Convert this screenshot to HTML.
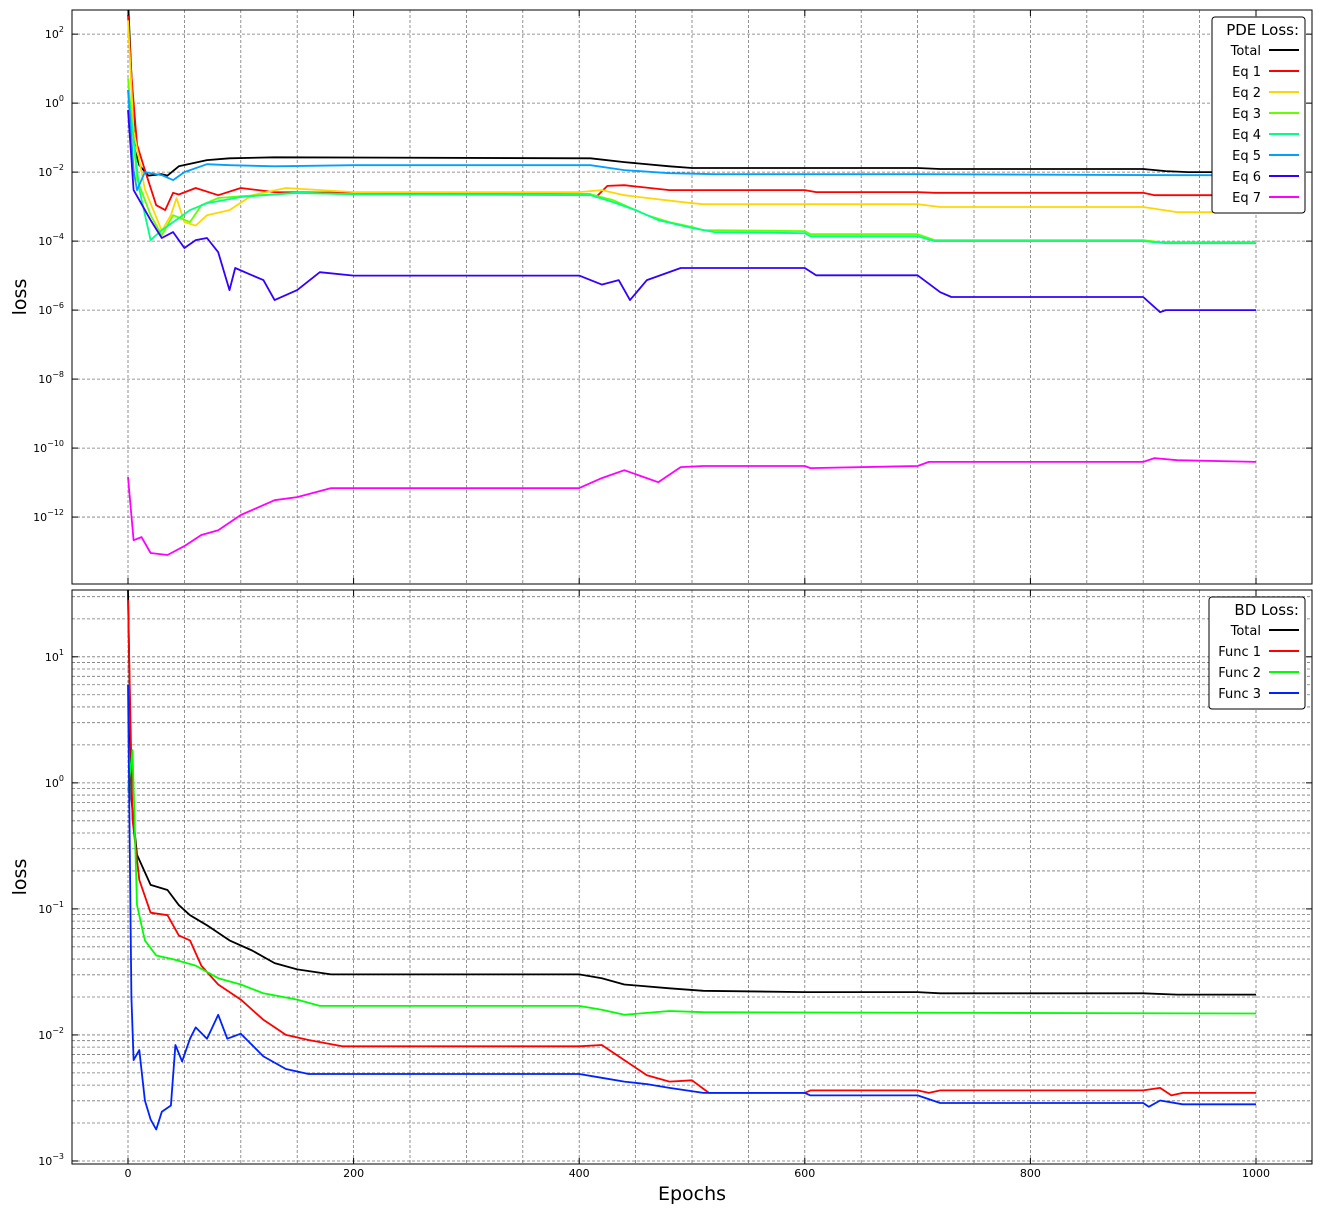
<!DOCTYPE html>
<html><head><meta charset="utf-8"><style>
body{margin:0;background:#fff;font-family:"Liberation Sans","DejaVu Sans",sans-serif}
svg text{font-family:"DejaVu Sans","Liberation Sans",sans-serif}
</style></head><body>
<svg id="c" width="1321" height="1214" xmlns="http://www.w3.org/2000/svg"></svg>
<script>
// epochs and log10(loss) values for each series
const pdeNames=["Total","Eq 1","Eq 2","Eq 3","Eq 4","Eq 5","Eq 6","Eq 7"];
const pdeColors=["#000000","#ff0000","#ffd700","#66ff00","#00ff88","#00a0ff","#3300ff","#ff00ff"];
const pdeTotalE=[0,6,10,18,30,35,45,70,90,130,410,440,480,500,700,720,900,920,940,1000];
const pdeTotalL=[3,-1.36,-1.8,-2.1,-2.06,-2.1,-1.83,-1.65,-1.6,-1.57,-1.6,-1.71,-1.83,-1.88,-1.88,-1.91,-1.91,-1.97,-2.0,-2.0];
const eq1E=[0,3,8,15,25,33,40,45,60,80,100,130,200,410,415,425,440,480,510,600,610,700,715,900,910,1000];
const eq1L=[2.55,0.8,-1.2,-1.94,-2.96,-3.1,-2.6,-2.65,-2.46,-2.67,-2.46,-2.58,-2.6,-2.64,-2.72,-2.4,-2.38,-2.52,-2.52,-2.52,-2.58,-2.58,-2.6,-2.6,-2.67,-2.67];
const eq2E=[0,5,15,30,38,43,50,60,70,90,110,140,200,400,420,440,460,500,510,700,720,900,930,1000];
const eq2L=[2.4,-0.8,-2.5,-3.7,-3.25,-2.75,-3.45,-3.55,-3.25,-3.1,-2.67,-2.46,-2.58,-2.58,-2.52,-2.67,-2.75,-2.9,-2.93,-2.93,-3.01,-3.01,-3.16,-3.16];
const eq3E=[0,8,20,30,40,55,65,80,100,150,200,410,430,460,480,500,510,600,605,700,715,900,915,1000];
const eq3L=[0.72,-2.2,-3.25,-3.83,-3.25,-3.45,-2.96,-2.75,-2.7,-2.6,-2.64,-2.64,-2.81,-3.25,-3.45,-3.59,-3.68,-3.71,-3.8,-3.8,-3.97,-3.97,-4.03,-4.03];
const eq4E=[0,10,20,30,40,55,70,100,150,200,410,430,450,470,500,520,600,605,700,715,900,920,1000];
const eq4L=[0.38,-2.5,-3.97,-3.68,-3.45,-3.1,-2.9,-2.72,-2.6,-2.64,-2.67,-2.87,-3.1,-3.39,-3.62,-3.74,-3.77,-3.86,-3.86,-4.0,-4.0,-4.06,-4.06];
const eq5E=[0,5,8,15,30,40,50,70,90,130,200,410,440,480,520,700,930,1000];
const eq5L=[0.38,-1.94,-2.52,-2.0,-2.09,-2.23,-2.0,-1.77,-1.8,-1.83,-1.8,-1.8,-1.94,-2.03,-2.06,-2.06,-2.09,-2.09];
const eq6E=[0,5,10,20,30,40,50,60,70,80,90,95,110,120,130,150,170,200,400,420,435,445,460,490,520,600,610,700,720,730,900,915,920,935,1000];
const eq6L=[-0.2,-2.52,-2.81,-3.39,-3.91,-3.74,-4.2,-3.97,-3.91,-4.32,-5.42,-4.78,-4.99,-5.13,-5.71,-5.42,-4.9,-5.0,-5.0,-5.26,-5.13,-5.71,-5.13,-4.78,-4.78,-4.78,-4.99,-4.99,-5.48,-5.62,-5.62,-6.06,-6.0,-6.0,-6.0];
const eq7E=[0,5,12,20,35,50,65,80,100,130,150,180,400,420,440,470,490,510,600,605,700,710,900,910,930,1000];
const eq7L=[-10.84,-12.67,-12.58,-13.04,-13.1,-12.84,-12.52,-12.38,-11.94,-11.51,-11.42,-11.16,-11.16,-10.87,-10.64,-10.99,-10.55,-10.52,-10.52,-10.58,-10.52,-10.4,-10.4,-10.29,-10.35,-10.4];
const pdeE=[pdeTotalE,eq1E,eq2E,eq3E,eq4E,eq5E,eq6E,eq7E];
const pdeL=[pdeTotalL,eq1L,eq2L,eq3L,eq4L,eq5L,eq6L,eq7L];

const bdNames=["Total","Func 1","Func 2","Func 3"];
const bdColors=["#000000","#ff0000","#00ff00","#0022ff"];
const bdTotalE=[0,3,8,20,35,45,55,70,90,110,130,150,180,400,420,440,480,510,600,700,720,900,930,1000];
const bdTotalL=[1.53,-0.13,-0.57,-0.81,-0.85,-0.97,-1.05,-1.13,-1.25,-1.33,-1.43,-1.48,-1.52,-1.52,-1.55,-1.6,-1.63,-1.65,-1.66,-1.66,-1.67,-1.67,-1.68,-1.68];
const f1E=[0,4,10,20,35,45,55,65,80,100,120,140,160,190,400,420,440,460,480,500,515,600,605,700,710,720,900,915,925,935,1000];
const f1L=[1.45,-0.29,-0.77,-1.03,-1.05,-1.21,-1.25,-1.45,-1.6,-1.72,-1.88,-2.0,-2.04,-2.09,-2.09,-2.08,-2.2,-2.32,-2.37,-2.36,-2.46,-2.46,-2.44,-2.44,-2.46,-2.44,-2.44,-2.42,-2.48,-2.46,-2.46];
const f2E=[0,4,8,15,25,40,60,80,100,120,150,170,400,420,440,480,510,1000];
const f2L=[-0.06,0.26,-0.97,-1.25,-1.37,-1.4,-1.45,-1.55,-1.6,-1.67,-1.72,-1.77,-1.77,-1.8,-1.84,-1.81,-1.82,-1.83];
const f3E=[0,3,5,10,15,20,25,30,38,42,48,55,60,70,80,88,100,120,140,160,190,400,420,440,460,480,510,600,605,700,720,900,905,915,935,1000];
const f3L=[0.78,-1.7,-2.2,-2.12,-2.52,-2.67,-2.75,-2.61,-2.56,-2.08,-2.21,-2.03,-1.94,-2.03,-1.84,-2.03,-1.99,-2.17,-2.27,-2.31,-2.31,-2.31,-2.34,-2.37,-2.39,-2.42,-2.46,-2.46,-2.48,-2.48,-2.54,-2.54,-2.57,-2.52,-2.55,-2.55];
const bdE=[bdTotalE,f1E,f2E,f3E];
const bdL=[bdTotalL,f1L,f2L,f3L];
const xTicks=[0,200,400,600,800,1000];

const NS="http://www.w3.org/2000/svg";
const svg=document.getElementById('c');
function mk(t,a,p){const e=document.createElementNS(NS,t);for(const k in a)e.setAttribute(k,a[k]);(p||svg).appendChild(e);return e;}
const X0=72,X1=1312;
const xs=e=>128+(e)*1.128;
function panel(name,top,bot,ymax,ymin,majors,minor,E,L,colors,names,title,lx,ly,lw){
  const g=mk('g',{});
  
  
  const ys=v=>top+(ymax-v)/(ymax-ymin)*(bot-top);
  const grid=mk('g',{},g);
  
  
  for(let e=-50;e<=1050;e+=50){const x=xs(e);if(x<=X0||x>=X1)continue;
    mk('line',{x1:x,x2:x,y1:top,y2:bot,stroke:'#777','stroke-width':0.8,'stroke-dasharray':'3,2'},grid);}
  const hl=[];
  for(const m of majors){hl.push(m);if(minor)for(let k=2;k<=9;k++)hl.push(m+Math.log10(k));}
  if(minor)for(let k=2;k<=9;k++)hl.push(majors[0]+1+Math.log10(k));
  for(const v of hl){const y=ys(v);if(y<=top||y>=bot)continue;
    mk('line',{x1:X0,x2:X1,y1:y,y2:y,stroke:'#777','stroke-width':0.8,'stroke-dasharray':'3,2'},grid);}
  const lines=mk('g',{},g);
  for(let i=0;i<E.length;i++){
    let d='';for(let j=0;j<E[i].length;j++){const y=Math.max(top-20,ys(L[i][j]));d+=(j?'L':'M')+xs(E[i][j]).toFixed(1)+','+y.toFixed(1);}
    const p=mk('path',{d:d,fill:'none',stroke:colors[i],'stroke-width':1.8,'stroke-linejoin':'round','clip-path':'url(#clip-'+name+')'},lines);
    
    
  }
  const cp=mk('clipPath',{id:'clip-'+name});mk('rect',{x:X0,y:top,width:X1-X0,height:bot-top},cp);
  mk('rect',{x:X0,y:top,width:X1-X0,height:bot-top,fill:'none',stroke:'#000','stroke-width':1},g);
  for(const m of majors){const y=ys(m);if(y<top||y>bot)continue;
    mk('line',{x1:X0,x2:X0+6,y1:y,y2:y,stroke:'#000'},g);mk('line',{x1:X1-6,x2:X1,y1:y,y2:y,stroke:'#000'},g);
    const t=mk('text',{x:X0-8,y:y+4,'text-anchor':'end','font-size':11},g);
    
    
    t.textContent='10';const s=mk('tspan',{dy:-6,'font-size':8},t);s.textContent=(m<0?'\u2212'+(-m):m);}
  for(const e of xTicks){const x=xs(e);mk('line',{x1:x,x2:x,y1:bot-6,y2:bot,stroke:'#000'},g);mk('line',{x1:x,x2:x,y1:top,y2:top+6,stroke:'#000'},g);}
  const yl=mk('text',{x:26,y:(top+bot)/2,'text-anchor':'middle','font-size':19,transform:'rotate(-90 26 '+(top+bot)/2+')'},g);
  
  
  yl.textContent='loss';
  const lg=mk('g',{},g);
  
  
  const lh=28+names.length*21;
  mk('rect',{x:lx,y:ly,width:lw,height:lh,rx:3,fill:'#fff',stroke:'#000','stroke-width':1},lg);
  const tt=mk('text',{x:lx+lw-6,y:ly+18,'text-anchor':'end','font-size':15},lg);tt.textContent=title;
  names.forEach((n,i)=>{const y=ly+33+i*21;
    const en=mk('g',{},lg);
    
    
    const t=mk('text',{x:lx+lw-44,y:y+5,'text-anchor':'end','font-size':13},en);t.textContent=n;
    mk('line',{x1:lx+lw-36,x2:lx+lw-6,y1:y,y2:y,stroke:colors[i],'stroke-width':2},en);});
}
panel('pde',10,584,2.7,-13.94,[2,0,-2,-4,-6,-8,-10,-12],false,pdeE,pdeL,pdeColors,pdeNames,'PDE Loss:',1212,17,93);
panel('bd',590,1164,1.53,-3.024,[1,0,-1,-2,-3],true,bdE,bdL,bdColors,bdNames,'BD Loss:',1209,597,96);
for(const e of xTicks){const t=mk('text',{x:xs(e),y:1177,'text-anchor':'middle','font-size':11});
  
  
  t.textContent=e;}
const xt=mk('text',{x:692,y:1200,'text-anchor':'middle','font-size':19});


xt.textContent='Epochs';
</script>
</body></html>
